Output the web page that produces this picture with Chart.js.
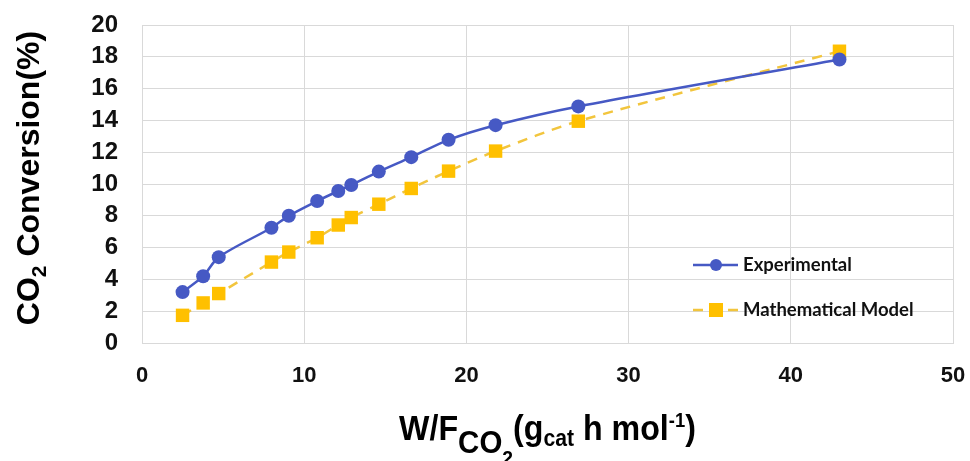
<!DOCTYPE html>
<html>
<head>
<meta charset="utf-8">
<script src="https://cdn.jsdelivr.net/npm/chart.js@4.4.1/dist/chart.umd.min.js"></script>
<style>
  body { margin: 0; background: #fff; }
  #wrap { width: 970px; height: 461px; }
</style>
</head>
<body>
<div id="wrap"><canvas id="chart" width="970" height="461"></canvas></div>
<script>
// W/F_CO2 values (g_cat h mol-1)
const wf = [2.5, 3.77, 4.73, 7.98, 9.05, 10.8, 12.1, 12.9, 14.6, 16.6, 18.9, 21.8, 26.9, 43.0];
// CO2 conversion (%)
const experimental = [3.2, 4.2, 5.4, 7.25, 8.0, 8.93, 9.56, 9.94, 10.78, 11.69, 12.78, 13.7, 14.88, 17.83];
const model = [1.74, 2.52, 3.11, 5.09, 5.72, 6.62, 7.42, 7.89, 8.73, 9.72, 10.81, 12.07, 13.95, 18.35];
const seriesNames = ['Experimental', 'Mathematical Model'];
const xRange = [0, 50, 10];
const yRange = [0, 20, 2];

const BLUE = '#4659c4';
const GOLD = '#ffc000';
const GOLD_LINE = '#f2c53d';
const FONT = "'Liberation Sans', Arial, sans-serif";

function toPoints(xs, ys) {
    return xs.map((x, i) => ({ x: x, y: ys[i] }));
}

// draws text with sub/superscripts, segments: [text, size, dy]
function richWidth(ctx, segs) {
    let w = 0;
    segs.forEach(s => {
        ctx.font = 'bold ' + s[1] + 'px ' + FONT;
        w += ctx.measureText(s[0]).width;
    });
    return w;
}
function drawRich(ctx, segs, x, y) {
    segs.forEach(s => {
        ctx.font = 'bold ' + s[1] + 'px ' + FONT;
        ctx.fillText(s[0], x, y + s[2]);
        x += ctx.measureText(s[0]).width;
    });
}

const titlesPlugin = {
    id: 'titles',
    afterDraw(chart) {
        const ctx = chart.ctx;
        const area = chart.chartArea;
        ctx.save();
        ctx.fillStyle = '#000';
        ctx.textAlign = 'left';
        ctx.textBaseline = 'alphabetic';

        // x axis title, slightly condensed
        const xSegs = [['W/F', 35, 0], ['CO', 32, 13], ['2', 21, 25], ['(g', 35, 0], ['cat', 23, 6], [' h mol', 35, 0], ['-1', 20, -13], [')', 35, 0]];
        const squeeze = 0.92;
        const xw = richWidth(ctx, xSegs) * squeeze;
        ctx.save();
        ctx.translate((area.left + area.right) / 2 - xw / 2, 440);
        ctx.scale(squeeze, 1);
        drawRich(ctx, xSegs, 0, 0);
        ctx.restore();

        // y axis title
        const ySegs = [['CO', 32, 0], ['2', 21, 7], [' Conversion(%)', 32, 0]];
        const yw = richWidth(ctx, ySegs);
        ctx.save();
        ctx.translate(39, 178);
        ctx.rotate(-Math.PI / 2);
        drawRich(ctx, ySegs, -yw / 2, 0);
        ctx.restore();

        // legend inside the plot area
        const rows = [265, 310];
        chart.data.datasets.forEach((ds, i) => {
            const y = rows[i];
            ctx.save();
            ctx.strokeStyle = ds.borderColor;
            ctx.lineWidth = ds.borderWidth;
            ctx.beginPath();
            if (ds.borderDash) {
                ctx.moveTo(693, y); ctx.lineTo(703, y);
                ctx.moveTo(728, y); ctx.lineTo(738, y);
            } else {
                ctx.moveTo(693, y); ctx.lineTo(738, y);
            }
            ctx.stroke();
            ctx.fillStyle = ds.pointBackgroundColor;
            ctx.beginPath();
            if (ds.pointStyle === 'rect') {
                ctx.rect(709, y - 7, 14, 14);
            } else {
                ctx.arc(716, y, 6, 0, Math.PI * 2);
            }
            ctx.fill();
            ctx.fillStyle = '#111';
            ctx.font = "bold 18.5px Lato, 'Open Sans', sans-serif";
            ctx.textBaseline = 'middle';
            ctx.fillText(ds.label, 743, y);
            ctx.restore();
        });
        ctx.restore();
    }
};

document.addEventListener('DOMContentLoaded', function() {
    const ctx = document.getElementById('chart').getContext('2d');
    new Chart(ctx, {
        type: 'scatter',
        data: {
            datasets: [{
                label: seriesNames[0],
                data: toPoints(wf, experimental),
                showLine: true,
                borderColor: BLUE,
                borderWidth: 2.5,
                tension: 0.3,
                pointStyle: 'circle',
                pointRadius: 7,
                pointBackgroundColor: BLUE,
                pointBorderColor: BLUE,
                pointBorderWidth: 0
            }, {
                label: seriesNames[1],
                data: toPoints(wf, model),
                showLine: true,
                borderColor: GOLD_LINE,
                borderWidth: 2.5,
                borderDash: [10, 8],
                tension: 0.3,
                pointStyle: 'rect',
                pointRadius: 9.5,
                pointBackgroundColor: GOLD,
                pointBorderColor: GOLD,
                pointBorderWidth: 0
            }]
        },
        options: {
            responsive: false,
            animation: false,
            layout: { padding: { left: 0, top: 25, right: 17, bottom: 0 } },
            plugins: {
                legend: { display: false },
                tooltip: { enabled: false }
            },
            scales: {
                x: {
                    type: 'linear',
                    min: xRange[0],
                    max: xRange[1],
                    ticks: {
                        stepSize: xRange[2],
                        autoSkip: false,
                        color: '#111',
                        padding: 20,
                        font: { family: FONT, size: 22, weight: 'bold' }
                    },
                    grid: { color: '#d9d9d9', drawTicks: false },
                    border: { color: '#d9d9d9' },
                    afterFit: s => {
                        s.height = 118;
                        s.paddingLeft = 0;
                        s.paddingRight = 0;
                    }
                },
                y: {
                    type: 'linear',
                    min: yRange[0],
                    max: yRange[1],
                    ticks: {
                        stepSize: yRange[2],
                        autoSkip: false,
                        color: '#111',
                        padding: 24,
                        font: { family: FONT, size: 24, weight: 'bold' }
                    },
                    grid: { color: '#d9d9d9', drawTicks: false },
                    border: { color: '#d9d9d9' },
                    afterFit: s => {
                        s.width = 142;
                        s.paddingTop = 0;
                        s.paddingBottom = 0;
                    }
                }
            }
        },
        plugins: [titlesPlugin]
    });
});
</script>
</body>
</html>
